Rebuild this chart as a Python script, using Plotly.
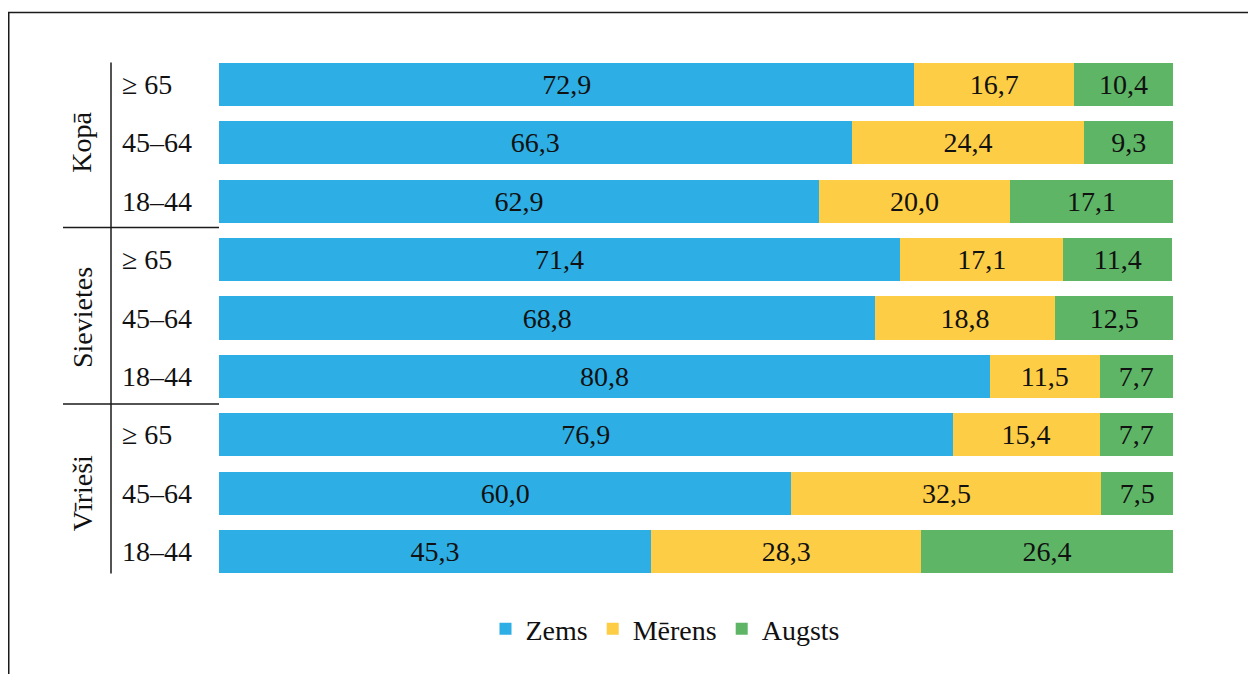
import plotly.graph_objects as go

groups = ["Kopā", "Sievietes", "Vīrieši"]
ages = ["≥ 65", "45–64", "18–44"]
series_names = ["Zems", "Mērens", "Augsts"]
zems = [72.9, 66.3, 62.9, 71.4, 68.8, 80.8, 76.9, 60.0, 45.3]
merens = [16.7, 24.4, 20.0, 17.1, 18.8, 11.5, 15.4, 32.5, 28.3]
augsts = [10.4, 9.3, 17.1, 11.4, 12.5, 7.7, 7.7, 7.5, 26.4]
colors = ["#2DAEE4", "#FDCD45", "#5EB566"]

FONT = "Liberation Serif"
FS = 28
TXT = "#111111"
W, H = 1256, 674
L, R, T, B = 211, 91, 47, 101
pw, ph = W - L - R, H - T - B

def px_x(p):
    return (p - L) / pw

def px_y(p):
    return (H - B - p) / ph

keys = [f"{g}|{a}" for g in groups for a in ages]

def fmt(v):
    return f"{v:.1f}".replace(".", ",")

fig = go.Figure()
for name, vals, col in zip(series_names, [zems, merens, augsts], colors):
    fig.add_trace(go.Bar(
        y=keys, x=vals, name=name, orientation="h",
        marker=dict(color=col, line=dict(width=0)),
        text=[fmt(v) for v in vals], textposition="inside",
        insidetextanchor="middle",
        textfont=dict(family=FONT, size=FS, color=TXT),
        hoverinfo="skip",
    ))

annotations = []
for k, key in enumerate(keys):
    annotations.append(dict(
        x=px_x(112), xref="paper", y=key, yref="y", text=key.split("|")[1],
        showarrow=False, xanchor="left", yanchor="middle",
        font=dict(family=FONT, size=FS, color=TXT),
    ))
for gi, g in enumerate(groups):
    annotations.append(dict(
        x=px_x(74), xref="paper", y=keys[gi * 3 + 1], yref="y", text=g,
        showarrow=False, textangle=-90, xanchor="center", yanchor="middle",
        font=dict(family=FONT, size=FS, color=TXT),
    ))

line = dict(color="#1a1a1a", width=1.5)
shapes = [
    dict(type="line", xref="paper", yref="y", x0=px_x(103), x1=px_x(103),
         y0=-0.37, y1=8.37, line=line),
    dict(type="line", xref="paper", yref="y", x0=px_x(55), x1=0,
         y0=2.45, y1=2.45, line=line),
    dict(type="line", xref="paper", yref="y", x0=px_x(55), x1=0,
         y0=5.47, y1=5.47, line=line),
    dict(type="rect", xref="paper", yref="paper", x0=px_x(0.75), x1=px_x(1246.5),
         y0=px_y(690), y1=px_y(4.5), line=dict(color="#1a1a1a", width=1.5)),
]

fig.update_layout(
    width=W, height=H,
    margin=dict(l=L, r=R, t=T, b=B),
    barmode="stack", bargap=0.264,
    plot_bgcolor="white", paper_bgcolor="white",
    uniformtext=dict(minsize=FS, mode="show"),
    xaxis=dict(range=[0, 100], visible=False, fixedrange=True),
    yaxis=dict(categoryorder="array", categoryarray=keys, autorange="reversed",
               showticklabels=False, showgrid=False, zeroline=False, showline=False,
               ticks=""),
    legend=dict(orientation="h", x=px_x(657), xanchor="center", y=px_y(621),
                yanchor="middle", font=dict(family=FONT, size=FS, color=TXT),
                itemwidth=30, traceorder="normal"),
    annotations=annotations, shapes=shapes,
)
fig.write_html("out.html")
